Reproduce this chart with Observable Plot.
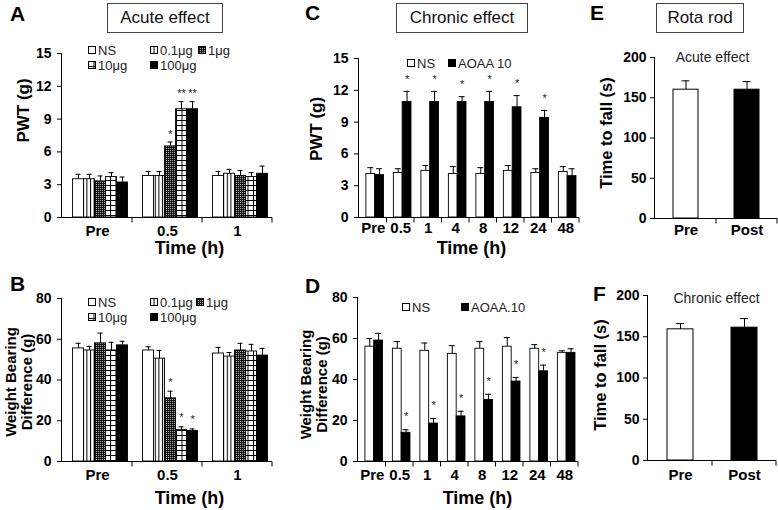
<!DOCTYPE html>
<html><head><meta charset="utf-8">
<script src="https://cdn.jsdelivr.net/npm/d3@7"></script>
<script src="https://cdn.jsdelivr.net/npm/@observablehq/plot@0.6"></script>
<style>
body{margin:0;background:#fff;}
#root{position:relative;width:778px;height:510px;overflow:hidden;font-family:"Liberation Sans",Arial,sans-serif;background:#fff;}
.letter{font-weight:bold;font-size:21px;line-height:21px;}
.tbox{border:1px solid #444;font-size:17px;text-align:center;box-sizing:border-box;line-height:28px;color:#111;}
.leg{font-size:13px;line-height:15px;display:flex;align-items:center;white-space:nowrap;color:#222;}
</style></head><body>
<svg width="0" height="0" style="position:absolute">
<defs>
<pattern id="pVert" patternUnits="userSpaceOnUse" width="3.6" height="4"><rect width="3.6" height="4" fill="white"/><line x1="0.5" y1="0" x2="0.5" y2="4" stroke="black" stroke-width="1"/></pattern>
<pattern id="pDots" patternUnits="userSpaceOnUse" width="2" height="2"><rect width="2" height="2" fill="#151515"/><rect width="1" height="1" fill="#aaaaaa"/></pattern>
<pattern id="pGrid" patternUnits="userSpaceOnUse" width="5.5" height="5"><rect width="5.5" height="5" fill="white"/><path d="M0 0.5H5.5M0.5 0V5" stroke="black" stroke-width="1"/></pattern>
</defs></svg>
<div id="root"></div>
<script>
// ---------- DATA ----------
const acuteTimes = ["Pre", "0.5", "1"];
const acuteDoses = ["NS", "0.1μg", "1μg", "10μg", "100μg"];
// [time][dose]
const pwtAcuteMean = [[3.5, 3.5, 3.3, 3.7, 3.2], [3.8, 3.8, 6.5, 9.9, 9.9], [3.8, 4.0, 3.8, 3.7, 4.0]];
const pwtAcuteErr  = [[0.45, 0.45, 0.5, 0.4, 0.5], [0.4, 0.4, 0.4, 0.7, 0.7], [0.4, 0.4, 0.5, 0.4, 0.7]];
const pwtAcuteSig  = [["", "", "", "", ""], ["", "", "*", "**", "**"], ["", "", "", "", ""]];
const wbAcuteMean = [[55.5, 54.5, 58, 54.5, 57], [54.5, 50.5, 31, 15.5, 15], [53, 51.5, 54.5, 54, 52]];
const wbAcuteErr  = [[2.5, 2, 5, 4, 2], [1.8, 4, 3.5, 1.5, 1], [3, 2, 3.5, 3.5, 3.5]];
const wbAcuteSig  = [["", "", "", "", ""], ["", "", "*", "*", "*"], ["", "", "", "", ""]];

const chronicTimes = ["Pre", "0.5", "1", "4", "8", "12", "24", "48"];
const chronicGroupsC = ["NS", "AOAA 10"];
const chronicGroupsD = ["NS", "AOAA.10"];
const pwtChronicNS      = [4.1, 4.2, 4.4, 4.1, 4.1, 4.4, 4.2, 4.3];
const pwtChronicNSErr   = [0.6, 0.4, 0.5, 0.7, 0.6, 0.5, 0.4, 0.5];
const pwtChronicAOAA    = [4.0, 10.9, 10.9, 10.9, 10.9, 10.4, 9.4, 3.9];
const pwtChronicAOAAErr = [0.6, 1.0, 1.0, 0.5, 1.0, 1.1, 0.7, 0.7];
const pwtChronicSig     = ["", "*", "*", "*", "*", "*", "*", ""];
const wbChronicNS      = [56, 55, 54, 52.5, 55, 56, 55, 53];
const wbChronicNSErr   = [4, 3.5, 3.8, 4, 3.5, 4.5, 2, 1];
const wbChronicAOAA    = [59, 14, 18.5, 22, 30, 39, 44, 53];
const wbChronicAOAAErr = [3.5, 1.5, 2.5, 2.5, 2.8, 2, 3, 2];
const wbChronicSig     = ["", "*", "*", "*", "*", "*", "*", ""];

const rotaPhases = ["Pre", "Post"];
const rotaAcuteMean = [160, 160];
const rotaAcuteErr  = [11, 10];
const rotaChronicMean = [159, 161];
const rotaChronicErr  = [7, 11];

const pwtTicks = [0, 3, 6, 9, 12, 15];
const wbTicks = [0, 20, 40, 60, 80];
const rotaTicks = [0, 50, 100, 150, 200];

// ---------- HELPERS ----------
const FONT = '"Liberation Sans", Arial, sans-serif';
const root = document.getElementById("root");
function place(el, left, top) {
  el.style.position = "absolute"; el.style.left = left + "px"; el.style.top = top + "px";
  root.appendChild(el);
}
const doseFills = ["white", "url(#pVert)", "url(#pDots)", "url(#pGrid)", "black"];
const chronicFills = ["white", "black"];

function axisLines() {
  return (index, scales, values, dims) => {
    const {width, height, marginLeft, marginRight, marginTop, marginBottom} = dims;
    const x = scales.x;
    const g = d3.create("svg:g").attr("stroke", "black").attr("stroke-width", 1).attr("fill", "none");
    const yb = height - marginBottom + 0.5;
    const xl = marginLeft - 0.5;
    g.append("line").attr("x1", xl).attr("x2", xl).attr("y1", marginTop).attr("y2", yb);
    g.append("line").attr("x1", xl).attr("x2", width - marginRight).attr("y1", yb).attr("y2", yb);
    const dom = x.domain();
    const step = x.step ? x.step() : (width - marginLeft - marginRight) / dom.length;
    const bounds = dom.slice(1).map(d => x(d)).concat([x(dom[dom.length - 1]) + step]);
    for (const b of bounds) g.append("line").attr("x1", b).attr("x2", b).attr("y1", yb).attr("y2", yb + 5);
    return g.node();
  };
}

function groupedPanel(p) {
  const bw = (p.width - p.mL - p.mR) / p.cats.length;
  const n = p.series.length;
  const slot = bw * (p.g1 - p.g0) / n;
  const marks = [];
  p.series.forEach((s, j) => {
    const rows = p.cats.map((c, i) => ({cat: c, value: p.mean(i, j), err: p.err(i, j), sig: p.sig(i, j)}));
    const left = bw * p.g0 + j * slot;
    const center = left + slot / 2;
    marks.push(Plot.barY(rows, {x: "cat", y: "value", fill: p.fills[j], stroke: "black", strokeWidth: 0.9,
      insetLeft: left, insetRight: bw - left - slot}));
    marks.push(Plot.ruleX(rows, {x: "cat", y1: "value", y2: d => d.value + d.err, dx: center - bw / 2, stroke: "black", strokeWidth: 1}));
    marks.push(Plot.tickY(rows, {x: "cat", y: d => d.value + d.err, stroke: "black", strokeWidth: 1,
      insetLeft: center - p.cap, insetRight: bw - center - p.cap}));
    marks.push(Plot.text(rows.filter(d => d.sig), {x: "cat", y: d => d.value + d.err, text: "sig", dx: center - bw / 2, dy: p.starDy,
      fontSize: 11, fontWeight: "normal", fill: "#222"}));
  });
  return makePlot(p, marks);
}

function rotaPanel(p) {
  const bw = (p.width - p.mL - p.mR) / rotaPhases.length;
  const rows = rotaPhases.map((ph, i) => ({phase: ph, value: p.mean[i], err: p.err[i], fill: chronicFills[i]}));
  const marks = [
    Plot.barY(rows, {x: "phase", y: "value", fill: "fill", stroke: "black", strokeWidth: 1, insetLeft: (bw - p.barW) / 2, insetRight: (bw - p.barW) / 2}),
    Plot.ruleX(rows, {x: "phase", y1: "value", y2: d => d.value + d.err, stroke: "black"}),
    Plot.tickY(rows, {x: "phase", y: d => d.value + d.err, stroke: "black", insetLeft: bw / 2 - 4, insetRight: bw / 2 - 4}),
    Plot.text([p.note], {frameAnchor: "top", textAnchor: "middle", lineAnchor: "middle", dx: p.noteDx, dy: p.noteDy, fontSize: 14, fontWeight: "normal", fill: "#222"})
  ];
  return makePlot({...p, cats: rotaPhases}, marks);
}

function makePlot(p, marks) {
  const plot = Plot.plot({
    width: p.width, height: p.height,
    marginLeft: p.mL, marginRight: p.mR, marginTop: p.mT, marginBottom: p.mB,
    style: {fontFamily: FONT, fontSize: "14px", fontWeight: "bold", color: "black", background: "transparent", overflow: "visible"},
    x: {domain: p.cats, padding: 0, round: false, label: null},
    y: {domain: [0, p.yTicks[p.yTicks.length - 1]], label: null},
    color: {type: "identity"},
    marks: [
      ...marks,
      Plot.axisY({ticks: p.yTicks, tickSize: 5, tickPadding: p.yPad, label: null, fontSize: 14, fontWeight: "bold"}),
      Plot.axisX({tickSize: 0, tickPadding: p.xPad, label: null, fontSize: 15, fontWeight: "bold"}),
      axisLines(),
      Plot.text([p.yLabel], {frameAnchor: "left", textAnchor: "middle", lineAnchor: "middle", rotate: -90, dx: p.yLdx, dy: p.yLdy, fontSize: p.yLsize, fontWeight: "bold", lineHeight: 1.1}),
      ...(p.xLabel ? [Plot.text([p.xLabel], {frameAnchor: "bottom", textAnchor: "middle", lineAnchor: "middle", dx: p.xLdx, dy: p.xLdy, fontSize: 18, fontWeight: "bold"})] : [])
    ]
  });
  place(plot, p.left, p.top);
  return plot;
}

function legend(labels, fills, pos) {
  labels.forEach((lab, i) => {
    const d = document.createElement("div");
    d.className = "leg";
    d.innerHTML = `<svg width="8" height="8" style="margin-right:2px"><rect x="0.5" y="0.5" width="7" height="7" fill="${fills[i]}" stroke="black" stroke-width="1"/></svg><span>${lab}</span>`;
    place(d, pos[i][0], pos[i][1] - 7.5);
  });
}
function letter(t, x, y) { const d = document.createElement("div"); d.className = "letter"; d.textContent = t; place(d, x, y); }
function tbox(t, x, y, w, h) { const d = document.createElement("div"); d.className = "tbox"; d.textContent = t; d.style.width = w + "px"; d.style.height = h + "px"; place(d, x, y); }

// ---------- PANELS ----------
groupedPanel({left: 0, top: 0, width: 275, height: 255, mL: 62, mR: 3, mT: 53, mB: 38,
  cats: acuteTimes, series: acuteDoses, fills: doseFills, g0: 0.15, g1: 0.936, cap: 2.5, starDy: -8,
  mean: (i, j) => pwtAcuteMean[i][j], err: (i, j) => pwtAcuteErr[i][j], sig: (i, j) => pwtAcuteSig[i][j],
  yTicks: pwtTicks, yPad: 6, xPad: 8, yLabel: "PWT (g)", yLsize: 17, yLdx: -39, yLdy: -25,
  xLabel: "Time (h)", xLdx: 22, xLdy: 31});

groupedPanel({left: 0, top: 245, width: 275, height: 265, mL: 62, mR: 3, mT: 53, mB: 49,
  cats: acuteTimes, series: acuteDoses, fills: doseFills, g0: 0.15, g1: 0.936, cap: 2.5, starDy: -9,
  mean: (i, j) => wbAcuteMean[i][j], err: (i, j) => wbAcuteErr[i][j], sig: (i, j) => wbAcuteSig[i][j],
  yTicks: wbTicks, yPad: 6, xPad: 8, yLabel: "Weight Bearing\nDifference (g)", yLsize: 15, yLdx: -44, yLdy: 2,
  xLabel: "Time (h)", xLdx: 22, xLdy: 37});

const cMeans = [pwtChronicNS, pwtChronicAOAA], cErrs = [pwtChronicNSErr, pwtChronicAOAAErr];
groupedPanel({left: 272, top: 0, width: 310, height: 255, mL: 87, mR: 3, mT: 58, mB: 38,
  cats: chronicTimes, series: chronicGroupsC, fills: chronicFills, g0: 0.25, g1: 0.89, cap: 3, starDy: -12,
  mean: (i, j) => cMeans[j][i], err: (i, j) => cErrs[j][i], sig: (i, j) => j === 1 ? pwtChronicSig[i] : "",
  yTicks: pwtTicks, yPad: 6, xPad: 5, yLabel: "PWT (g)", yLsize: 17, yLdx: -43, yLdy: -9,
  xLabel: "Time (h)", xLdx: 2, xLdy: 31});

const dMeans = [wbChronicNS, wbChronicAOAA], dErrs = [wbChronicNSErr, wbChronicAOAAErr];
groupedPanel({left: 272, top: 245, width: 310, height: 265, mL: 86, mR: 4, mT: 52, mB: 49,
  cats: chronicTimes, series: chronicGroupsD, fills: chronicFills, g0: 0.25, g1: 0.89, cap: 3, starDy: -13,
  mean: (i, j) => dMeans[j][i], err: (i, j) => dErrs[j][i], sig: (i, j) => j === 1 ? wbChronicSig[i] : "",
  yTicks: wbTicks, yPad: 6, xPad: 8, yLabel: "Weight Bearing\nDifference (g)", yLsize: 15, yLdx: -45, yLdy: 5,
  xLabel: "Time (h)", xLdx: 9, xLdy: 37});

rotaPanel({left: 582, top: 0, width: 196, height: 255, mL: 73, mR: 1, mT: 57, mB: 37, barW: 25,
  mean: rotaAcuteMean, err: rotaAcuteErr, note: "Acute effect", noteDx: -4, noteDy: 0,
  yTicks: rotaTicks, yPad: 4, xPad: 6, yLabel: "Time to fall (s)", yLsize: 16.5, yLdx: -49.5, yLdy: -5});

rotaPanel({left: 582, top: 245, width: 196, height: 265, mL: 66, mR: 2, mT: 50, mB: 50, barW: 26,
  mean: rotaChronicMean, err: rotaChronicErr, note: "Chronic effect", noteDx: 4, noteDy: 3,
  yTicks: rotaTicks, yPad: 4, xPad: 9, yLabel: "Time to fall (s)", yLsize: 16.5, yLdx: -48, yLdy: -3});

// ---------- LEGENDS / TITLES ----------
legend(acuteDoses, doseFills, [[88, 50], [150, 50], [198, 50], [88, 65], [150, 65]]);
legend(acuteDoses, doseFills, [[88, 302], [150, 302], [196, 302], [88, 317], [150, 317]]);
legend(chronicGroupsC, chronicFills, [[407, 63], [448, 63]]);
legend(chronicGroupsD, chronicFills, [[402, 307], [461, 307]]);

tbox("Acute effect", 107, 3, 116, 30);
tbox("Chronic effect", 396, 3, 132, 30);
tbox("Rota rod", 656, 3, 88, 30);

letter("A", 10, 3); letter("B", 10, 273); letter("C", 305, 2);
letter("D", 305, 275); letter("E", 590, 2); letter("F", 593, 283);
</script></body></html>
